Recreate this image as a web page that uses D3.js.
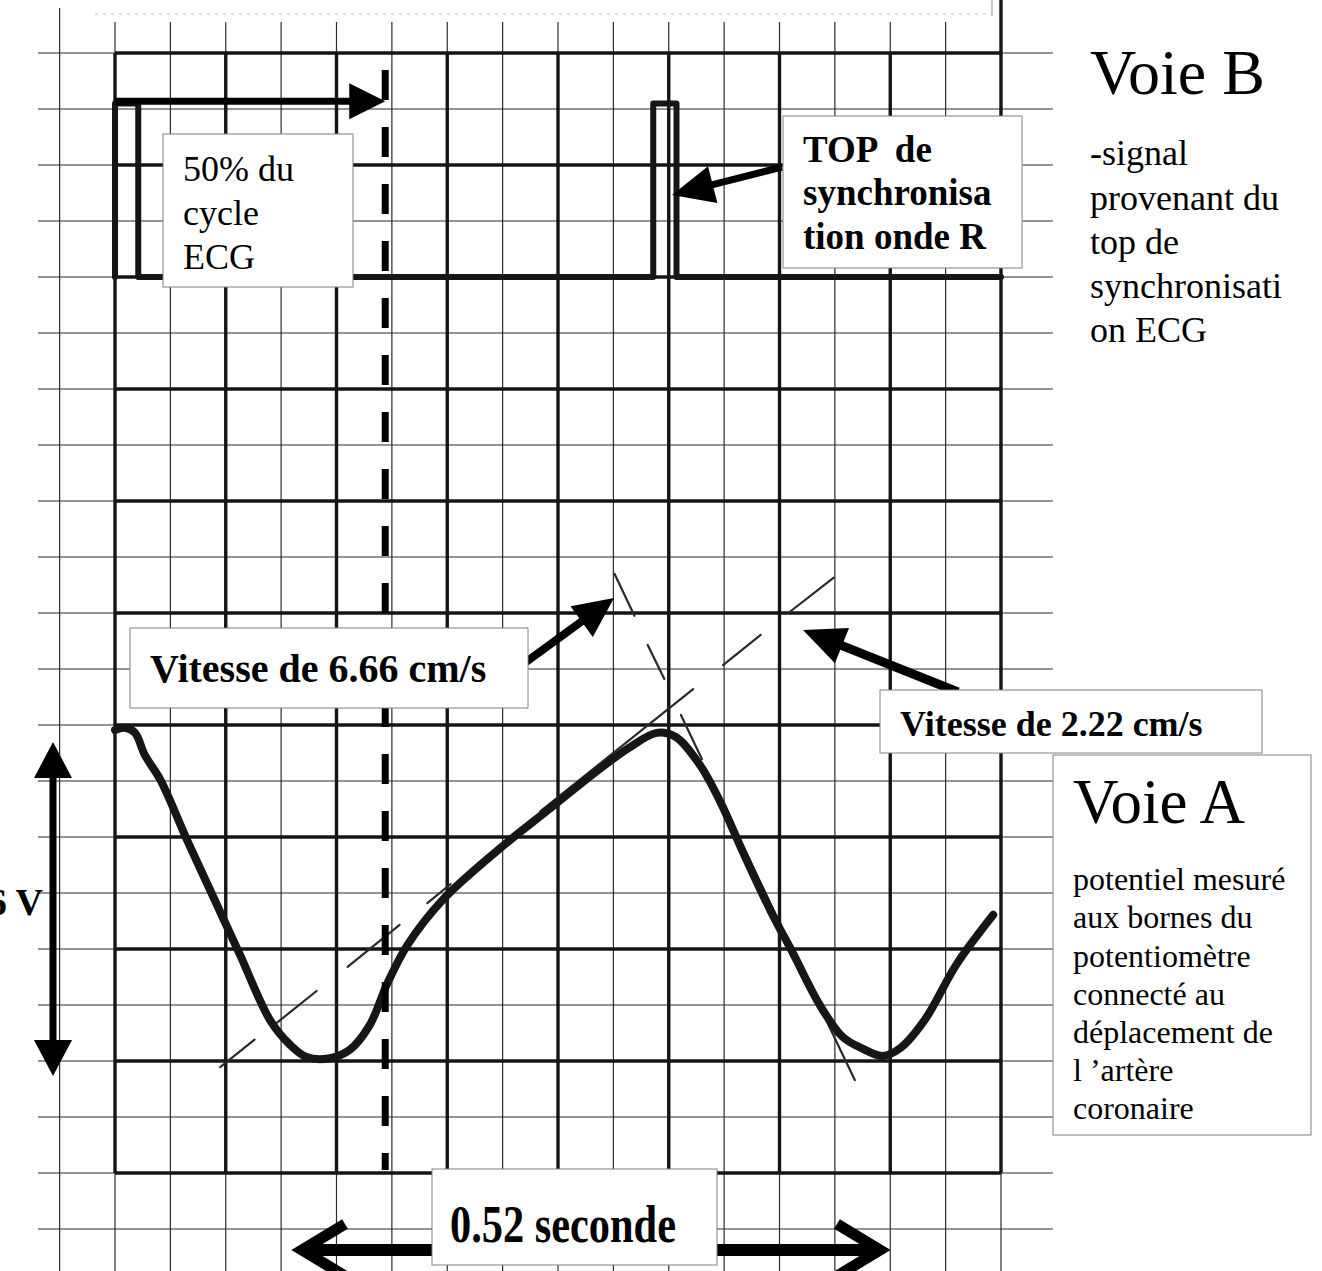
<!DOCTYPE html>
<html>
<head>
<meta charset="utf-8" />
<title>Voie A / Voie B</title>
<style>
    body { margin: 0; background: #fff; }
    svg { display: block; font-family: "Liberation Serif", "Times New Roman", serif; }
    .grid-minor { stroke: #2b2b2b; stroke-width: 1.2; }
    .grid-major { stroke: #151515; stroke-width: 3.4; }
    .trace { fill: none; stroke: #161616; stroke-linejoin: round; stroke-linecap: round; }
    .tangent { stroke: #2a2a2a; stroke-width: 2.2; stroke-linecap: round; }
    .box { fill: #fff; stroke: #808080; stroke-width: 1; }
    .bold { font-weight: bold; }
</style>
</head>
<body>
<script src="https://d3js.org/d3.v7.min.js"></script>
<script>
// time in seconds (0.05 s per small square), tension in volts (1 V per small square)
let gridTimes  = [-0.05, 0, 0.05, 0.1, 0.15, 0.2, 0.25, 0.3, 0.35, 0.4, 0.45, 0.5, 0.55, 0.6, 0.65, 0.7, 0.75, 0.8]
let majorTimes = [0, 0.1, 0.2, 0.3, 0.4, 0.5, 0.6, 0.7, 0.8]
let gridVolts  = [-1, 0, 1, 2, 3, 4, 5, 6, 7, 8, 9, 10, 11, 12, 13, 14, 15, 16, 17, 18, 19, 20]
let majorVolts = [0, 2, 4, 6, 8, 10, 12, 14, 16, 18, 20]

// Voie A : potentiel du potentiometre
let voieA_t = [0.000, 0.009, 0.018, 0.027, 0.041, 0.065, 0.092, 0.113, 0.140, 0.158, 0.173, 0.194,
               0.212, 0.230, 0.246, 0.264, 0.296, 0.346, 0.396, 0.432, 0.464, 0.489, 0.506, 0.528,
               0.547, 0.567, 0.592, 0.612, 0.637, 0.657, 0.674, 0.693, 0.709, 0.731, 0.760, 0.793]
let voieA_v = [7.91, 7.95, 7.86, 7.46, 7.02, 5.95, 4.79, 3.89, 2.73, 2.29, 2.07, 2.05,
               2.20, 2.64, 3.39, 4.07, 4.88, 5.77, 6.56, 7.13, 7.59, 7.86, 7.79, 7.29,
               6.61, 5.73, 4.68, 3.93, 2.98, 2.43, 2.23, 2.09, 2.23, 2.73, 3.73, 4.61]

// Voie B : top de synchronisation ECG
let voieB_t = [0, 0, 0.021, 0.021, 0.486, 0.486, 0.507, 0.507, 0.8]
let voieB_v = [16, 19.1, 19.1, 16, 16, 19.1, 19.1, 16, 16]

// tangentes tracees a la main [t1, v1, t2, v2]
let slowTangent = [
    [0.095, 1.89, 0.126, 2.38],
    [0.146, 2.68, 0.182, 3.25],
    [0.210, 3.68, 0.257, 4.43],
    [0.282, 4.82, 0.303, 5.16],
    [0.384, 6.46, 0.522, 8.64],
    [0.549, 9.07, 0.583, 9.61],
    [0.608, 10.00, 0.649, 10.63]
]
let steepTangent = [
    [0.451, 10.70, 0.469, 9.95],
    [0.481, 9.43, 0.496, 8.82],
    [0.511, 8.18, 0.530, 7.39],
    [0.546, 6.71, 0.668, 1.66]
]

let halfCycle = 0.244   // 50% du cycle ECG
let pulseLevel = 19.14

let x = d3.scaleLinear().domain([0, 0.8]).range([115, 1001])
let y = d3.scaleLinear().domain([0, 20]).range([1173, 53])

let svg = d3.select('body')
            .append('svg')
            .attr('width', 1322)
            .attr('height', 1271)

svg.append('rect').attr('width', 1322).attr('height', 1271).attr('fill', '#fff')

// faint scan border at the top
svg.append('line')
    .attr('x1', 95).attr('x2', 992).attr('y1', 14).attr('y2', 14)
    .attr('stroke', '#bbb').attr('stroke-width', 1).attr('stroke-dasharray', '3,5')
svg.append('line')
    .attr('x1', 992).attr('x2', 992).attr('y1', 0).attr('y2', 16)
    .attr('stroke', '#999').attr('stroke-width', 1)

// grid
let grid = svg.append('g')

grid.selectAll('line.vmin')
    .data(gridTimes)
    .enter()
        .append('line')
        .attr('class', 'grid-minor')
        .attr('x1', d => x(d)).attr('x2', d => x(d))
        .attr('y1', d => d < 0 ? 8 : (d === 0.8 ? 0 : 22))
        .attr('y2', 1271)

grid.selectAll('line.hmin')
    .data(gridVolts)
    .enter()
        .append('line')
        .attr('class', 'grid-minor')
        .attr('x1', 38).attr('x2', 1053)
        .attr('y1', d => y(d)).attr('y2', d => y(d))

grid.selectAll('line.vmaj')
    .data(majorTimes)
    .enter()
        .append('line')
        .attr('class', 'grid-major')
        .attr('x1', d => x(d)).attr('x2', d => x(d))
        .attr('y1', d => d === 0.8 ? 0 : y(20))
        .attr('y2', y(0))

grid.selectAll('line.hmaj')
    .data(majorVolts)
    .enter()
        .append('line')
        .attr('class', 'grid-major')
        .attr('x1', x(0)).attr('x2', x(0.8))
        .attr('y1', d => y(d)).attr('y2', d => y(d))

// traces
let line = d3.line()
             .x(d => x(d[0]))
             .y(d => y(d[1]))

svg.append('path')
    .datum(voieB_t.map((t, i) => [t, voieB_v[i]]))
    .attr('class', 'trace')
    .attr('stroke-width', 6)
    .attr('stroke-linejoin', 'miter')
    .attr('d', line)

svg.append('g')
    .selectAll('line')
    .data(slowTangent.concat(steepTangent))
    .enter()
        .append('line')
        .attr('class', 'tangent')
        .attr('x1', d => x(d[0])).attr('y1', d => y(d[1]))
        .attr('x2', d => x(d[2])).attr('y2', d => y(d[3]))

svg.append('path')
    .datum(voieA_t.map((t, i) => [t, voieA_v[i]]))
    .attr('class', 'trace')
    .attr('stroke-width', 8)
    .attr('d', line.curve(d3.curveCatmullRom))

// 50% line
svg.append('line')
    .attr('x1', x(halfCycle)).attr('x2', x(halfCycle))
    .attr('y1', 70).attr('y2', 1170)
    .attr('stroke', '#000').attr('stroke-width', 7)
    .attr('stroke-dasharray', '30,27')

function arrow(x1, y1, x2, y2, w, hl, hw) {
    let a = Math.atan2(y2 - y1, x2 - x1)
    let bx = x2 - hl * Math.cos(a), by = y2 - hl * Math.sin(a)
    let px = -Math.sin(a) * hw / 2, py = Math.cos(a) * hw / 2
    svg.append('line')
        .attr('x1', x1).attr('y1', y1).attr('x2', bx + Math.cos(a) * 2).attr('y2', by + Math.sin(a) * 2)
        .attr('stroke', '#000').attr('stroke-width', w)
    svg.append('polygon')
        .attr('points', [[x2, y2], [bx + px, by + py], [bx - px, by - py]].map(p => p.join(',')).join(' '))
        .attr('fill', '#000')
}

function textBlock(x0, baselines, lines, size, bold) {
    let t = svg.append('text')
               .attr('font-size', size)
               .attr('fill', '#000')
               .classed('bold', !!bold)
               .style('white-space', 'pre')
    lines.forEach((s, i) => {
        t.append('tspan').attr('x', x0).attr('y', baselines[i]).text(s)
    })
    return t
}

function box(x0, y0, w, h) {
    svg.append('rect').attr('class', 'box')
        .attr('x', x0).attr('y', y0).attr('width', w).attr('height', h)
}

// 50% du cycle
arrow(x(0), y(pulseLevel), x(halfCycle), y(pulseLevel), 7, 36, 36)
box(163, 134, 190, 153)
textBlock(183, [181, 225, 269], ['50% du', 'cycle', 'ECG'], 36)

// TOP de synchronisation
arrow(782, 167, 672, 195, 7, 42, 38)
box(783, 116, 239, 152)
textBlock(803, [162, 205, 249], ['TOP  de', 'synchronisa', 'tion onde R'], 37, true)

// Voie B
textBlock(1090, [94], ['Voie B'], 64)
textBlock(1090, [165, 210, 254, 298, 342],
    ['-signal', 'provenant du', 'top de', 'synchronisati', 'on ECG'], 36)

// Vitesse 6.66
arrow(526, 662, 614, 598, 8, 40, 38)
box(130, 628, 398, 80)
textBlock(150, [682], ['Vitesse de 6.66 cm/s'], 40, true)

// Vitesse 2.22
arrow(958, 692, 803, 630, 9, 42, 38)
box(880, 690, 382, 63)
textBlock(900, [736], ['Vitesse de 2.22 cm/s'], 36, true)

// Voie A
box(1053, 755, 258, 380)
textBlock(1073, [823], ['Voie A'], 63)
textBlock(1073, [890, 928, 967, 1005, 1043, 1081, 1119],
    ['potentiel mesuré', 'aux bornes du', 'potentiomètre', 'connecté au',
     'déplacement de', 'l \u2019artère', 'coronaire'], 32)

// 6 V (the "6" is cut by the page edge, as in the scan)
arrow(53, 910, 53, 742, 7, 36, 38)
arrow(53, 910, 53, 1076, 7, 36, 38)
svg.append('text')
    .attr('x', 43).attr('y', 915)
    .attr('text-anchor', 'end')
    .attr('font-size', 38)
    .attr('font-weight', 'bold')
    .text('6 V')

// 0.52 seconde
svg.append('line').attr('x1', 304).attr('x2', 878).attr('y1', 1250).attr('y2', 1250)
    .attr('stroke', '#000').attr('stroke-width', 12)
svg.append('polyline').attr('points', '345,1224 302,1250 345,1276')
    .attr('fill', 'none').attr('stroke', '#000').attr('stroke-width', 11)
svg.append('polyline').attr('points', '837,1224 880,1250 837,1276')
    .attr('fill', 'none').attr('stroke', '#000').attr('stroke-width', 11)
box(432, 1169, 285, 96)
svg.append('text')
    .attr('x', 450).attr('y', 1242)
    .attr('font-size', 52)
    .attr('font-weight', 'bold')
    .attr('textLength', 226)
    .attr('lengthAdjust', 'spacingAndGlyphs')
    .text('0.52 seconde')
</script>
</body>
</html>
